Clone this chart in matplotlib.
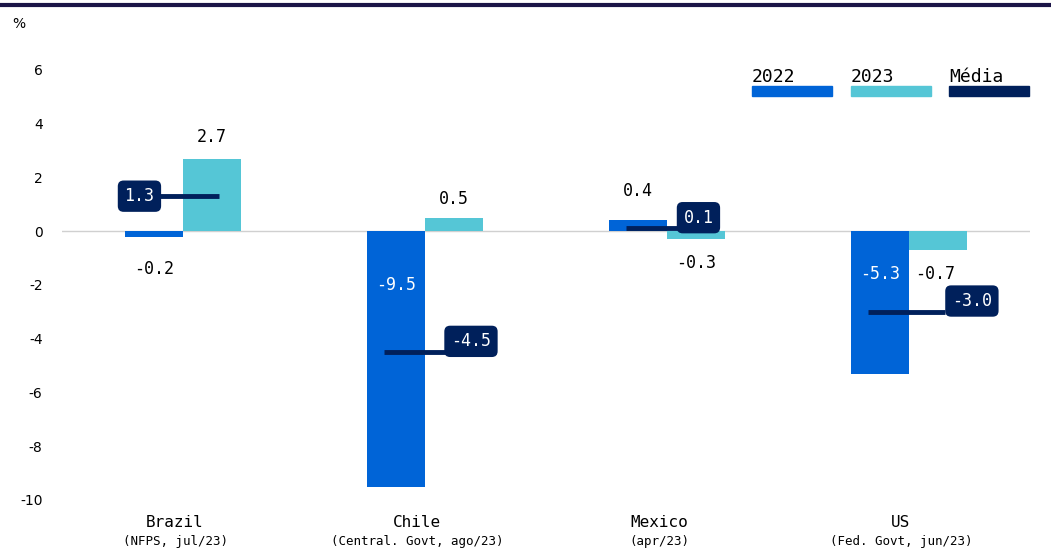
import numpy as np
import matplotlib.pyplot as plt
from matplotlib.patches import Rectangle

# dados
countries = ['Brazil', 'Chile', 'Mexico', 'US']
subtitles = ['(NFPS, jul/23)', '(Central. Govt, ago/23)', '(apr/23)', '(Fed. Govt, jun/23)']
v2022 = [-0.2, -9.5, 0.4, -5.3]
v2023 = [2.7, 0.5, -0.3, -0.7]
media = [1.3, -4.5, 0.1, -3.0]

c2022 = '#0064D7'
c2023 = '#55C6D6'
cmed = '#00205B'
mono = 'DejaVu Sans Mono'

fig = plt.figure(figsize=(10.51, 5.54), dpi=100)
ax = fig.add_axes([0.059, 0.0975, 0.921, 0.825])

x = np.arange(len(countries))
w = 0.24
ax.bar(x - w / 2, v2022, w, color=c2022, zorder=2)
ax.bar(x + w / 2, v2023, w, color=c2023, zorder=2)
ax.axhline(0, color='#d0d0d0', lw=1, zorder=1)

# linha da média
for i, m in enumerate(media):
    ax.plot([i - 0.17, i + 0.15], [m, m], color=cmed, lw=3.5, solid_capstyle='butt', zorder=3)

box = dict(boxstyle='round,pad=0.4,rounding_size=0.35', fc=cmed, ec='none')
med_pos = [(-0.18, 1.3), (1.19, -4.1), (2.13, 0.5), (3.26, -2.6)]
for (px, py), m in zip(med_pos, media):
    ax.text(px, py, f'{m:.1f}', color='white', fontsize=12, family=mono,
            ha='center', va='center', bbox=box, zorder=4)

# rótulos dos valores
lab22 = [(-0.12, -1.4, 'black'), (0.88, -2.0, 'white'), (1.88, 1.5, 'black'), (2.88, -1.6, 'white')]
lab23 = [(0.12, 3.5), (1.12, 1.2), (2.12, -1.2), (3.11, -1.6)]
for (px, py, c), v in zip(lab22, v2022):
    ax.text(px, py, f'{v:.1f}', color=c, fontsize=12, family=mono, ha='center', va='center', zorder=4)
for (px, py), v in zip(lab23, v2023):
    ax.text(px, py, f'{v:.1f}', color='black', fontsize=12, family=mono, ha='center', va='center', zorder=4)

ax.set_xlim(-0.5, 3.5)
ax.set_ylim(-10, 7)
ax.set_yticks(range(-10, 7, 2))
ax.set_yticklabels([str(t) for t in range(-10, 7, 2)], fontsize=10)
ax.tick_params(axis='y', length=0, pad=14)
ax.set_xticks([])
for s in ax.spines.values():
    s.set_visible(False)

for i, (c, s) in enumerate(zip(countries, subtitles)):
    ax.text(i - 0.033, -10.85, c, fontsize=11.5, family=mono, ha='center', va='center')
    ax.text(i - 0.033, -11.55, s, fontsize=9, family=mono, ha='center', va='center')

# legenda
leg = [('2022', c2022), ('2023', c2023), ('Média', cmed)]
for k, (t, c) in enumerate(leg):
    x0 = 752 / 1051 + k * 98.5 / 1051
    fig.text(x0, 1 - 77 / 554, t, fontsize=13, family=mono, ha='left', va='center')
    fig.patches.append(Rectangle((x0, 1 - 96 / 554), 80 / 1051, 10 / 554,
                                 transform=fig.transFigure, color=c))

fig.text(12 / 1051, 1 - 24 / 554, '%', fontsize=10, ha='left', va='center')
fig.add_artist(plt.Line2D([0, 1], [1 - 5 / 554, 1 - 5 / 554], color='#1c1547', lw=3,
                          transform=fig.transFigure))

fig.savefig('out.png', dpi=100)
